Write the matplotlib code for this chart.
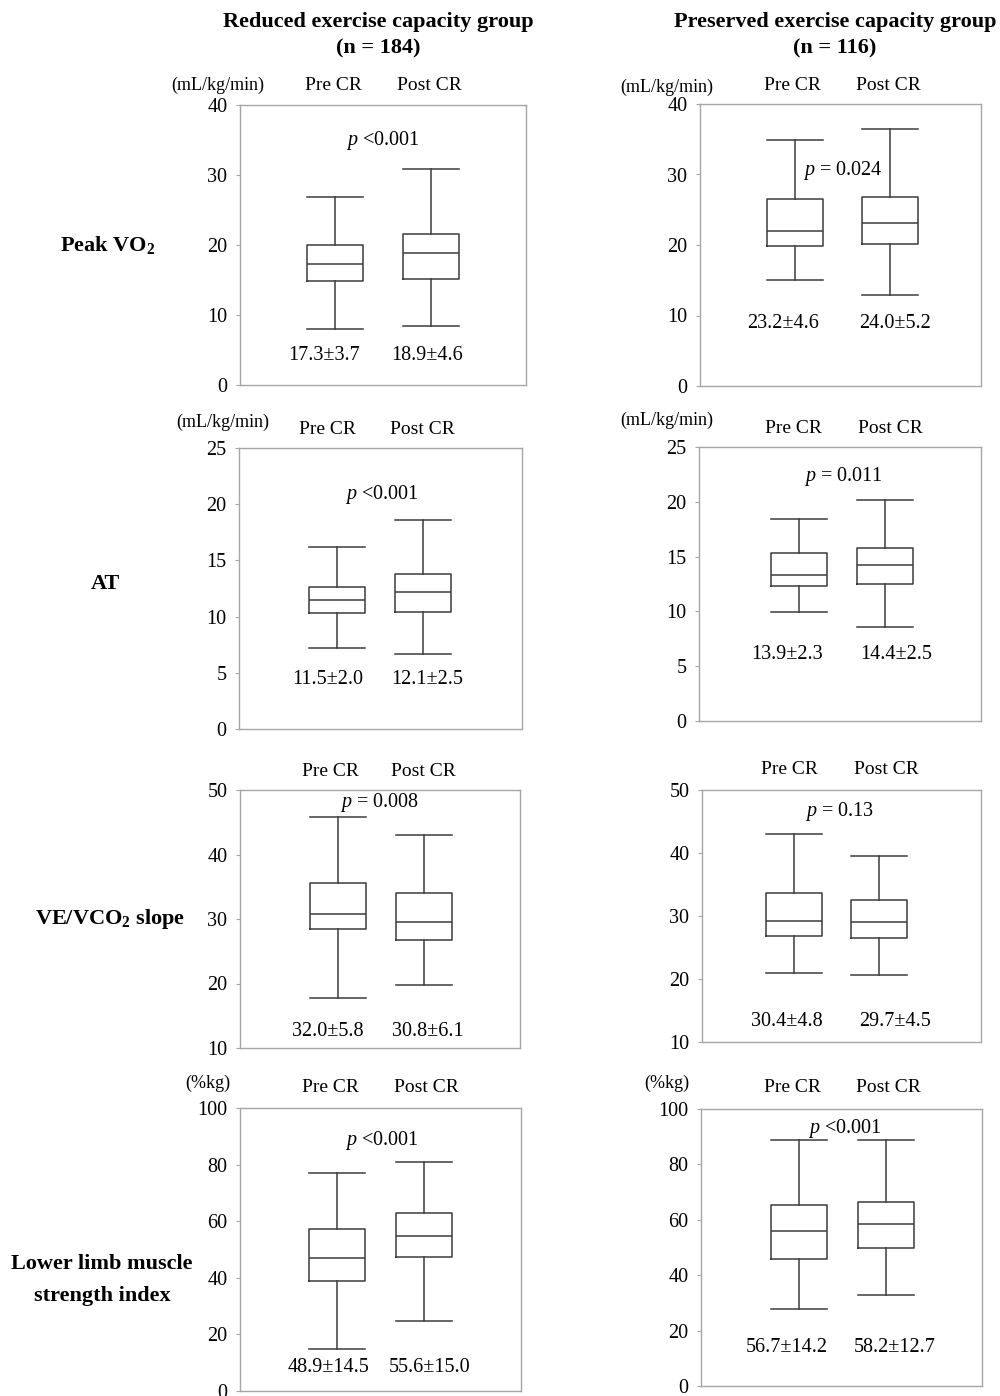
import matplotlib
matplotlib.use("Agg")
import matplotlib.pyplot as plt

plt.rcParams['font.family'] = ['Liberation Serif', 'DejaVu Serif']
plt.rcParams['mathtext.fontset'] = 'custom'
plt.rcParams['mathtext.rm'] = 'Liberation Serif'
plt.rcParams['mathtext.it'] = 'Liberation Serif:italic'
plt.rcParams['mathtext.bf'] = 'Liberation Serif:bold'

# ---------------- data ----------------
groups = ["Reduced exercise capacity group\n(n = 184)",
          "Preserved exercise capacity group\n(n = 116)"]
row_labels = ["Peak VO$_\\mathbf{2}$", "AT", "VE/VCO$_\\mathbf{2}$ slope",
              "Lower limb muscle\nstrength index"]
units = ["(mL/kg/min)", "(mL/kg/min)", "", "(%kg)"]
conditions = ["Pre CR", "Post CR"]
y_limits = [(0, 40), (0, 25), (10, 50), (0, 100)]
y_ticks = [[0, 10, 20, 30, 40], [0, 5, 10, 15, 20, 25],
           [10, 20, 30, 40, 50], [0, 20, 40, 60, 80, 100]]

# panels: row-major, [reduced, preserved] per metric; each entry [pre, post]
whis_lo = [[7.95, 8.4], [15.0, 12.9], [7.2, 6.7], [9.9, 8.6],
           [17.7, 19.8], [20.9, 20.6], [14.9, 24.9], [27.9, 32.9]]
q1 = [[14.9, 15.2], [19.8, 20.1], [10.3, 10.4], [12.3, 12.5],
      [28.4, 26.8], [26.9, 26.5], [38.8, 47.3], [45.8, 49.9]]
medians = [[17.3, 18.9], [22.0, 23.1], [11.5, 12.2], [13.35, 14.2],
           [30.8, 29.5], [29.2, 29.0], [46.9, 54.9], [55.9, 58.4]]
q3 = [[20.0, 21.6], [26.5, 26.8], [12.6, 13.8], [15.3, 15.8],
      [35.6, 34.0], [33.7, 32.5], [57.1, 62.9], [65.3, 66.6]]
whis_hi = [[26.8, 30.9], [34.9, 36.4], [16.2, 18.6], [18.4, 20.2],
           [45.8, 43.0], [43.0, 39.5], [76.9, 80.8], [88.8, 88.8]]
means = [[17.3, 18.9], [23.2, 24.0], [11.5, 12.1], [13.9, 14.4],
         [32.0, 30.8], [30.4, 29.7], [48.9, 55.6], [56.7, 58.2]]
sds = [[3.7, 4.6], [4.6, 5.2], [2.0, 2.5], [2.3, 2.5],
       [5.8, 6.1], [4.8, 4.5], [14.5, 15.0], [14.2, 12.7]]
p_texts = ["$p$ <0.001", "$p$ = 0.024", "$p$ <0.001", "$p$ = 0.011",
           "$p$ = 0.008", "$p$ = 0.13", "$p$ <0.001", "$p$ <0.001"]

# ---------------- layout (pixels) ----------------
W, H = 1000, 1396
frames = [(240, 105, 526, 385), (700, 104, 981, 386),
          (239, 448, 522, 729), (699, 447, 981, 721),
          (240, 790, 520, 1048), (702, 790, 981, 1042),
          (240, 1108, 521, 1391), (701, 1109, 982, 1386)]
box_cx = [(335, 431), (795, 890), (337, 423), (799, 885),
          (338, 424), (794, 879), (337, 424), (799, 886)]
box_px = 56
p_pos = [(383, 140), (843, 170), (382, 494), (843, 476),
         (380, 803), (840, 812), (382, 1140), (845, 1128)]
mean_y = [355, 323, 679, 654, 1032, 1022, 1368, 1348]
mean_x = [(324, 427), (783, 895), (328, 427), (787, 896),
          (328, 428), (787, 895), (328, 430), (787, 895)]
cond_y = [85, 85, 429, 428, 772, 770, 1087, 1088]
cond_x = [(333, 429), (792, 888), (327, 422), (793, 890),
          (330, 423), (789, 886), (330, 426), (792, 888)]
unit_pos = [(218, 85), (667, 87), (223, 422), (667, 420),
            None, None, (208, 1083), (667, 1083)]
row_pos = [(108, 245), (105, 584), (110, 919), (102, 1280)]
head_pos = [(378, 35), (835, 35)]

def fx(px):
    return px / W

def fy(py):
    return 1 - py / H

fig = plt.figure(figsize=(W / 100, H / 100), dpi=100)

frame_col = '#a6a6a6'
line_col = '#3c3c3c'

for i in range(8):
    x0, y0, x1, y1 = frames[i]
    ax = fig.add_axes([fx(x0), fy(y1), (x1 - x0) / W, (y1 - y0) / H])
    c1, c2 = box_cx[i]
    fw = x1 - x0
    f1, f2 = (c1 - x0) / fw, (c2 - x0) / fw
    span = 1.0 / (f2 - f1)
    left = 1 - f1 * span
    bw = box_px / fw * span
    stats = []
    for j in range(2):
        stats.append(dict(whislo=whis_lo[i][j], q1=q1[i][j], med=medians[i][j],
                          q3=q3[i][j], whishi=whis_hi[i][j], fliers=[]))
    ax.bxp(stats, positions=[1, 2], widths=bw, showfliers=False,
           boxprops=dict(color=line_col, linewidth=1.1),
           whiskerprops=dict(color=line_col, linewidth=1.1),
           capprops=dict(color=line_col, linewidth=1.1),
           medianprops=dict(color=line_col, linewidth=1.1),
           capwidths=bw)
    ax.set_xlim(left, left + span)
    ax.set_ylim(*y_limits[i // 2])
    ax.set_yticks(y_ticks[i // 2])
    ax.set_xticks([])
    ax.tick_params(axis='y', length=3, width=0.8, color=frame_col,
                   labelsize=14.5, pad=6, labelcolor='black')
    for s in ax.spines.values():
        s.set_color(frame_col)
        s.set_linewidth(1.0)

    # p value
    fig.text(fx(p_pos[i][0]), fy(p_pos[i][1]), p_texts[i], ha='center',
             va='center', fontsize=14.5)
    # mean +- sd
    for j in range(2):
        fig.text(fx(mean_x[i][j]), fy(mean_y[i]),
                 f"{means[i][j]:.1f}±{sds[i][j]:.1f}", ha='center',
                 va='center', fontsize=14.5)
        fig.text(fx(cond_x[i][j]), fy(cond_y[i]), conditions[j],
                 ha='center', va='center', fontsize=14)
    if unit_pos[i] is not None:
        fig.text(fx(unit_pos[i][0]), fy(unit_pos[i][1]), units[i // 2],
                 ha='center', va='center', fontsize=13)

for k, lab in enumerate(row_labels):
    fig.text(fx(row_pos[k][0]), fy(row_pos[k][1]), lab, ha='center',
             va='center', fontsize=16, fontweight='bold', linespacing=1.75)

for k, g in enumerate(groups):
    fig.text(fx(head_pos[k][0]), fy(head_pos[k][1]), g, ha='center',
             va='center', fontsize=16, fontweight='bold', linespacing=1.45)

fig.savefig("out.png", dpi=100)
